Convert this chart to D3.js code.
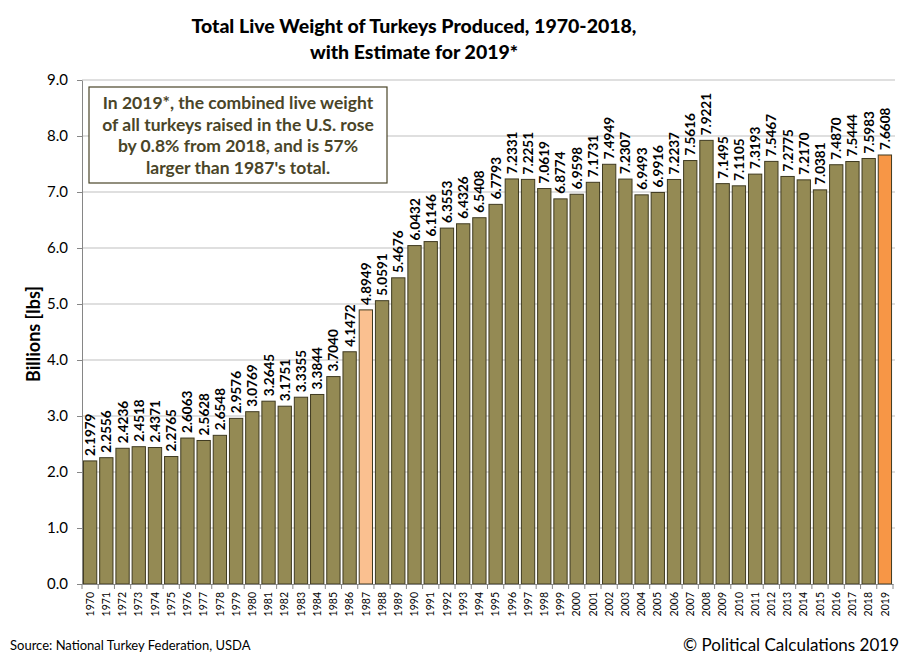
<!DOCTYPE html>
<html>
<head>
<meta charset="utf-8">
<script src="https://cdn.jsdelivr.net/npm/d3@7"></script>
<style>
body { margin: 0; background: #fff; }
text { font-family: Lato, "Open Sans", sans-serif; }
</style>
</head>
<body>
<svg id="chart" width="910" height="660"></svg>
<script>
// years and live weight (billions of lbs)
const years = d3.range(1970, 2020).map(String);
const weights = [2.1979, 2.2556, 2.4236, 2.4518, 2.4371, 2.2765, 2.6063, 2.5628, 2.6548, 2.9576,
  3.0769, 3.2645, 3.1751, 3.3355, 3.3844, 3.7040, 4.1472, 4.8949, 5.0591, 5.4676,
  6.0432, 6.1146, 6.3553, 6.4326, 6.5408, 6.7793, 7.2331, 7.2251, 7.0619, 6.8774,
  6.9598, 7.1731, 7.4949, 7.2307, 6.9493, 6.9916, 7.2237, 7.5616, 7.9221, 7.1495,
  7.1105, 7.3193, 7.5467, 7.2775, 7.2170, 7.0381, 7.4870, 7.5444, 7.5983, 7.6608];
const yTicks = [0, 1, 2, 3, 4, 5, 6, 7, 8, 9];
const titleLines = ["Total Live Weight of Turkeys Produced, 1970-2018,", "with Estimate for 2019*"];
const noteLines = ["In 2019*, the combined live weight", "of all turkeys raised in the U.S. rose",
  "by 0.8% from 2018, and is 57%", "larger than 1987's total."];

const data = years.map((y, i) => ({year: y, value: weights[i]}));

const svg = d3.select("#chart");
const mLeft = 82, mRight = 893, mTop = 80, mBottom = 584;

const x = d3.scaleBand().domain(years).range([mLeft, mRight]).paddingInner(0.18).paddingOuter(0.09);
const y = d3.scaleLinear().domain([0, 9]).range([mBottom, mTop]);

// gridlines
svg.append("g").selectAll("line")
  .data(yTicks.slice(1))
  .join("line")
  .attr("x1", mLeft).attr("x2", mRight + 2)
  .attr("y1", d => y(d)).attr("y2", d => y(d))
  .attr("stroke", "#bfbfbf").attr("stroke-width", 1);

// bars
function fillFor(d) {
  if (d.year === "1987") return "#fac090";
  if (d.year === "2019") return "#f79646";
  return "#948a54";
}
svg.append("g").selectAll("rect")
  .data(data)
  .join("rect")
  .attr("x", d => x(d.year))
  .attr("y", d => y(d.value))
  .attr("width", x.bandwidth())
  .attr("height", d => y(0) - y(d.value))
  .attr("fill", fillFor)
  .attr("stroke", "#3f3a20")
  .attr("stroke-width", 1);

// value labels
svg.append("g").selectAll("text")
  .data(data)
  .join("text")
  .attr("transform", d => `translate(${x(d.year) + x.bandwidth() / 2 + 5},${y(d.value) - 5}) rotate(-90)`)
  .attr("font-size", 13.5)
  .attr("font-weight", "bold")
  .attr("fill", "#000")
  .text(d => d.value.toFixed(4));

// y axis
const yAxis = svg.append("g")
  .attr("transform", `translate(${mLeft},0)`)
  .call(d3.axisLeft(y).tickValues(yTicks).tickFormat(d3.format(".1f")).tickSize(5).tickSizeOuter(0));
yAxis.select(".domain").attr("stroke", "#868686");
yAxis.selectAll(".tick line").attr("stroke", "#868686");
yAxis.selectAll(".tick text").attr("font-size", 15).attr("fill", "#000")
  .attr("font-family", "Lato, sans-serif").attr("x", -14);

// x axis
const xAxis = svg.append("g")
  .attr("transform", `translate(0,${mBottom})`)
  .call(d3.axisBottom(x).tickSize(0).tickSizeOuter(0));
xAxis.select(".domain").attr("stroke", "#868686");
xAxis.selectAll(".tick text")
  .attr("font-size", 10.5)
  .attr("font-family", "'DejaVu Sans Mono', monospace")
  .attr("fill", "#000")
  .attr("transform", "rotate(-90)")
  .attr("text-anchor", "end")
  .attr("x", -8)
  .attr("y", 0)
  .attr("dy", "0.35em");
// separators between categories
svg.append("g").selectAll("line")
  .data(d3.range(years.length + 1))
  .join("line")
  .attr("x1", i => mLeft + i * (mRight - mLeft) / years.length)
  .attr("x2", i => mLeft + i * (mRight - mLeft) / years.length)
  .attr("y1", mBottom).attr("y2", mBottom + 5)
  .attr("stroke", "#868686");

// title
svg.append("text")
  .attr("x", 414).attr("y", 33)
  .attr("text-anchor", "middle")
  .attr("font-size", 19.5).attr("font-weight", 900)
  .selectAll("tspan")
  .data(titleLines)
  .join("tspan")
  .attr("x", 414)
  .attr("dy", (d, i) => i ? 26 : 0)
  .text(d => d);

// y label
svg.append("text")
  .attr("transform", "translate(40,334) rotate(-90)")
  .attr("text-anchor", "middle")
  .attr("font-size", 18).attr("font-weight", "bold")
  .text("Billions [lbs]");

// annotation box
svg.append("rect")
  .attr("x", 89).attr("y", 87).attr("width", 298).attr("height", 96)
  .attr("fill", "#fff").attr("stroke", "#4a4528").attr("stroke-width", 1.2);
svg.append("text")
  .attr("text-anchor", "middle")
  .attr("font-size", 17.5).attr("font-weight", "bold")
  .attr("fill", "#4a4528")
  .selectAll("tspan")
  .data(noteLines)
  .join("tspan")
  .attr("x", 238)
  .attr("y", (d, i) => 109 + i * 21.7)
  .text(d => d);

// footer
svg.append("text")
  .attr("x", 10).attr("y", 650)
  .attr("font-size", 13)
  .text("Source: National Turkey Federation, USDA");
svg.append("text")
  .attr("x", 899).attr("y", 651)
  .attr("text-anchor", "end")
  .attr("font-size", 17)
  .text("\u00a9 Political Calculations 2019");
</script>
</body>
</html>
